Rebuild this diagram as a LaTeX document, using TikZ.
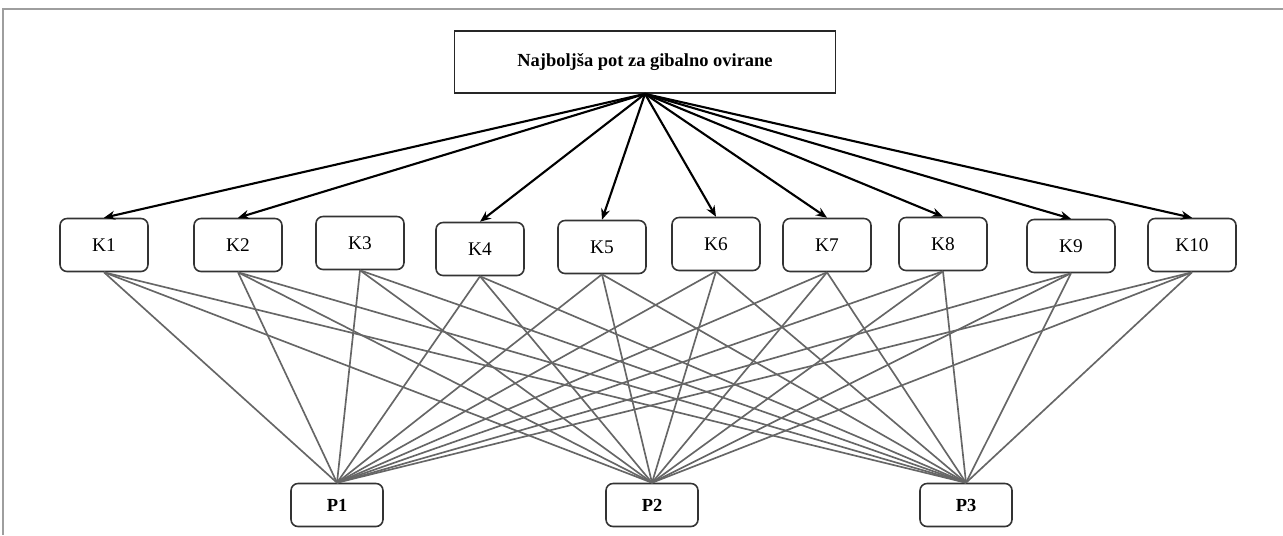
\documentclass[tikz,border=0pt]{standalone}
\usepackage{fontspec}
\setmainfont{Liberation Serif}
\usetikzlibrary{arrows.meta}
\definecolor{framegray}{rgb}{0.62,0.62,0.62}
\definecolor{linkgray}{rgb}{0.40,0.40,0.40}

\begin{document}
\begin{tikzpicture}[x=0.02cm,y=-0.02cm,
  goalbox/.style={draw=black!85,line width=1pt,minimum width=7.62cm,
    minimum height=1.24cm,font=\fontsize{10.5}{12}\selectfont\bfseries},
  kbox/.style={draw=black!80,line width=0.9pt,rounded corners=4pt,
    minimum width=1.76cm,minimum height=1.06cm,font=\fontsize{11}{13}\selectfont},
  pbox/.style={draw=black!80,line width=0.9pt,rounded corners=4pt,
    minimum width=1.84cm,minimum height=0.86cm,font=\fontsize{10.5}{12}\selectfont\bfseries},
  link/.style={draw=linkgray,line width=0.95pt},
  pointer/.style={-{Stealth[length=2.2mm,width=1.8mm]},line width=1.2pt}]
  \useasboundingbox (0,0) rectangle (1283,535);
  \draw[framegray,line width=1.2pt] (1283,9) -- (3,9) -- (3,535);

  % goal
  \node[goalbox] (goal) at (645,62) {Najboljša pot za gibalno ovirane};

  % criteria
  \node[kbox] (k1) at (104,245) {K1};
  \node[kbox] (k2) at (238,245) {K2};
  \node[kbox] (k3) at (360,243) {K3};
  \node[kbox] (k4) at (480,249) {K4};
  \node[kbox] (k5) at (602,247) {K5};
  \node[kbox] (k6) at (716,244) {K6};
  \node[kbox] (k7) at (827,245) {K7};
  \node[kbox] (k8) at (943,244) {K8};
  \node[kbox] (k9) at (1071,246) {K9};
  \node[kbox] (k10) at (1192,245) {K10};

  % alternatives
  \node[pbox] (p1) at (337,505) {P1};
  \node[pbox] (p2) at (652,505) {P2};
  \node[pbox] (p3) at (966,505) {P3};

  \foreach \k in {1,2,4,5,6,7,8,9,10}
    \draw[pointer] (goal.south) -- (k\k.north);

  \foreach \k in {1,...,10}
    \foreach \p in {1,2,3}
      \draw[link] (k\k.south) -- (p\p.north);
\end{tikzpicture}
\end{document}
